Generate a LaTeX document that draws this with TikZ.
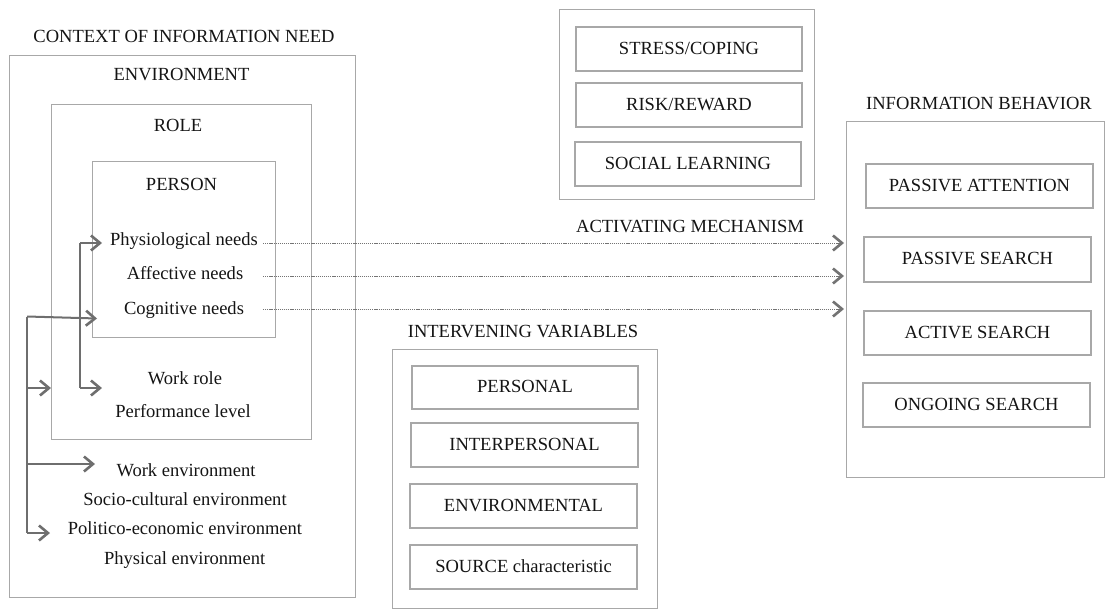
\documentclass[tikz,border=0pt]{standalone}
\usepackage{fontspec}
\setmainfont{Liberation Serif}
\usetikzlibrary{arrows.meta}
\definecolor{framegray}{RGB}{168,168,168}
\definecolor{arrowgray}{RGB}{110,110,110}
\definecolor{dotgray}{RGB}{115,115,115}
\definecolor{ink}{RGB}{20,20,20}
\begin{document}
\begin{tikzpicture}[x=1bp,y=-1bp,
  every node/.style={font=\fontsize{18.6}{20}\selectfont, text=ink},
  frame/.style={draw=framegray, line width=1.2bp},
  itembox/.style={draw=framegray, line width=1.2bp, inner sep=0pt,
    text height=12.3bp, text depth=2bp},
  label/.style={anchor=base, inner sep=0pt},
  flow/.style={draw=arrowgray, line width=2bp,
    -{Straight Barb[length=9bp, width=15bp, line width=2.6bp]}},
  bus/.style={draw=arrowgray, line width=2bp},
  trigger/.style={draw=dotgray, line width=0.9bp, dash pattern=on 1.2bp off 0.9bp,
    -{Straight Barb[length=9bp, width=15bp, line width=2.6bp]}},
]
\useasboundingbox (0,0) rectangle (1105,609);

% ---------- context of information need ----------
\node[frame, inner sep=0pt, minimum width=346bp, minimum height=542bp, anchor=north west] (ctx) at (9,55) {};
\node[frame, inner sep=0pt, minimum width=260bp, minimum height=335bp, anchor=north west] (role) at (51,104) {};
\node[frame, inner sep=0pt, minimum width=183bp, minimum height=176bp, anchor=north west] (person) at (92,161) {};

\node[label] (ctxlbl) at (184,43) {CONTEXT OF INFORMATION NEED};
\node[label] (envlbl) at (181.5,80.7) {ENVIRONMENT};
\node[label] (rolelbl) at (178,131.7) {ROLE};
\node[label] (personlbl) at (181.5,190.7) {PERSON};

\node[label] (physio) at (184,246) {Physiological needs};
\node[label] (affect) at (185,280) {Affective needs};
\node[label] (cognit) at (184,314.3) {Cognitive needs};
\node[label] (workrole) at (185,384) {Work role};
\node[label] (perf) at (183,417.3) {Performance level};
\node[label] (workenv) at (186,476) {Work environment};
\node[label] (socio) at (185,505) {Socio-cultural environment};
\node[label] (polit) at (185,534.3) {Politico-economic environment};
\node[label] (physenv) at (184.7,564.3) {Physical environment};

% inner bus: person and role
\coordinate (inTop) at (80,243);
\coordinate (inBot) at (80,388);
\coordinate (physIn) at (102,243);
\coordinate (roleIn) at (102,388);
\draw[bus] (inTop) -- (inBot);
\draw[flow] (inTop) -- (physIn);
\draw[flow] (inBot) -- (roleIn);

% outer bus: environment
\coordinate (outTop) at (27,316.5);
\coordinate (outBot) at (27,533);
\coordinate (cogIn) at (97,318.5);
\coordinate (outRole) at (27,388);
\coordinate (outEnv) at (27,464);
\coordinate (envIn) at (95,464);
\coordinate (polIn) at (50,533);
\draw[bus] (outTop) -- (outBot);
\draw[flow] (outTop) -- (cogIn);
\draw[flow] (outRole) -- (role.west |- outRole);
\draw[flow] (outEnv) -- (envIn);
\draw[flow] (outBot) -- (polIn);

% ---------- activating mechanism ----------
\node[frame, inner sep=0pt, minimum width=255bp, minimum height=190bp, anchor=north west] (mech) at (559,9) {};
\node[itembox, minimum width=226bp, minimum height=44bp] (stress) at (689,49) {STRESS/COPING};
\node[itembox, minimum width=226bp, minimum height=44bp] (risk) at (689,105) {RISK/REWARD};
\node[itembox, minimum width=226bp, minimum height=44bp] (social) at (688,164) {SOCIAL LEARNING};
\node[label] (mechlbl) at (690,233) {ACTIVATING MECHANISM};

% ---------- intervening variables ----------
\node[label] (ivlbl) at (523,337.3) {INTERVENING VARIABLES};
\node[frame, inner sep=0pt, minimum width=265bp, minimum height=259bp, anchor=north west] (iv) at (392,349) {};
\node[itembox, minimum width=226bp, minimum height=43bp] (personal) at (525,387.5) {PERSONAL};
\node[itembox, minimum width=227bp, minimum height=44bp] (interp) at (524.5,445) {INTERPERSONAL};
\node[itembox, minimum width=227bp, minimum height=44bp] (envir) at (523.5,506) {ENVIRONMENTAL};
\node[itembox, minimum width=227bp, minimum height=44bp] (source) at (523.5,567) {SOURCE characteristic};

% ---------- information behavior ----------
\node[label] (iblbl) at (979,110) {INFORMATION BEHAVIOR};
\node[frame, inner sep=0pt, minimum width=257.5bp, minimum height=356bp, anchor=north west] (ib) at (846,121) {};
\node[itembox, minimum width=227bp, minimum height=44bp] (pattn) at (979.5,186) {PASSIVE ATTENTION};
\node[itembox, minimum width=227bp, minimum height=45bp] (psearch) at (977.5,259.5) {PASSIVE SEARCH};
\node[itembox, minimum width=227bp, minimum height=44bp] (asearch) at (977.5,333) {ACTIVE SEARCH};
\node[itembox, minimum width=227bp, minimum height=44bp] (osearch) at (976.5,405) {ONGOING SEARCH};

% ---------- needs trigger information behaviour ----------
\coordinate (d1) at (263,243);
\coordinate (d2) at (263,276);
\coordinate (d3) at (263,309);
\draw[trigger] (d1) -- ([xshift=-2bp]ib.west |- d1);
\draw[trigger] (d2) -- ([xshift=-2bp]ib.west |- d2);
\draw[trigger] (d3) -- ([xshift=-2bp]ib.west |- d3);
\end{tikzpicture}
\end{document}
